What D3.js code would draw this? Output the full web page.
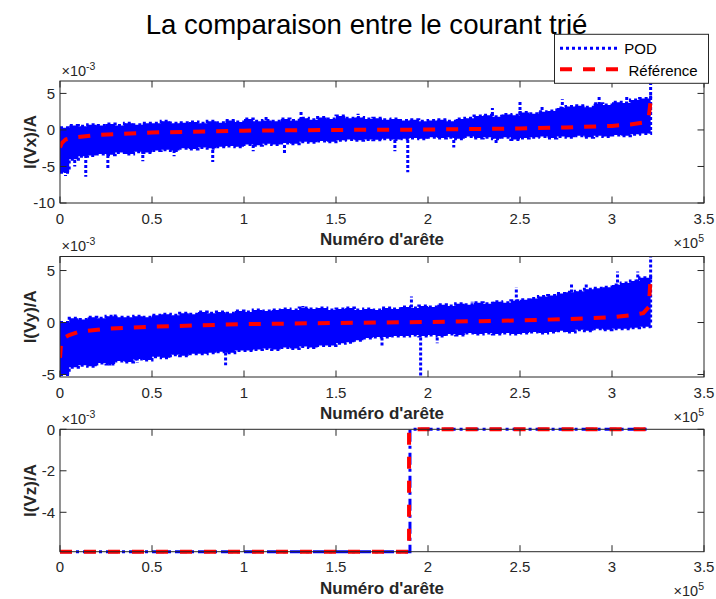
<!DOCTYPE html>
<html><head><meta charset="utf-8">
<script src="https://cdn.jsdelivr.net/npm/d3@7"></script>
<style>body{margin:0;background:#fff} svg{display:block}</style>
</head><body><svg id="c" width="716" height="599"></svg>
<script>
// ---------- DATA (x in units of 1e5 edges, y in units of 1e-3 A) ----------
const title = "La comparaison entre le courant trié";
const xLabel = "Numéro d'arête";
const yLabels = ["I(Vx)/A", "I(Vy)/A", "I(Vz)/A"];
const legendLabels = ["POD", "Référence"];
const xTicks = [0, 0.5, 1, 1.5, 2, 2.5, 3, 3.5];
const yTicks1 = [-10, -5, 0, 5];
const yTicks2 = [-5, 0, 5];
const yTicks3 = [-4, -2, 0];
const yDomain1 = [-10, 6.7];
const yDomain2 = [-5.24, 6.35];
const yDomain3 = [-5.9, 0];

// sample positions of the POD envelope (x 1e5)
const gridX = [0,0.05,0.1,0.15,0.2,0.25,0.3,0.35,0.4,0.45,0.5,0.55,0.6,0.65,0.7,0.75,0.8,0.85,0.9,0.95,
  1,1.05,1.1,1.15,1.2,1.25,1.3,1.35,1.4,1.45,1.5,1.55,1.6,1.65,1.7,1.75,1.8,1.85,1.9,1.95,
  2,2.05,2.1,2.15,2.2,2.25,2.3,2.35,2.4,2.45,2.5,2.55,2.6,2.65,2.7,2.75,2.8,2.85,2.9,2.95,
  3,3.05,3.1,3.15,3.21];

// panel 1 : POD upper / lower envelope
const podHiX = [0.3,0.6,0.5,0.7,0.6,0.8,0.6,0.9,0.7,0.9,0.9,1.2,0.9,1.0,1.1,0.9,1.2,1.0,1.3,1.1,
  1.5,1.2,1.3,1.2,1.5,1.3,1.6,1.4,1.7,1.5,1.9,1.6,1.7,1.5,1.6,1.4,1.5,1.3,1.4,1.2,
  1.3,1.4,1.2,1.5,1.6,1.9,2.0,1.8,2.1,2.0,2.4,2.2,2.5,2.6,3.0,3.2,3.3,3.1,3.6,3.4,
  3.8,3.7,4.1,4.3,4.7];
const podLoX = [-5.8,-4.0,-3.6,-3.5,-3.3,-3.4,-3.1,-3.3,-3.0,-3.1,-2.8,-2.7,-2.8,-2.5,-2.6,-2.4,-2.5,-2.3,-2.2,-2.3,
  -2.0,-2.1,-1.9,-2.0,-1.8,-1.9,-1.6,-1.7,-1.5,-1.6,-1.4,-1.3,-1.4,-1.3,-1.35,-1.2,-1.3,-1.2,-1.1,-1.2,
  -1.0,-1.1,-1.0,-1.2,-0.9,-1.1,-1.0,-1.2,-1.0,-1.3,-1.1,-1.0,-0.9,-1.1,-0.9,-1.0,-0.8,-1.0,-0.8,-0.9,
  -0.7,-0.8,-0.6,-0.5,-0.2];
const spikesX = [[0.01,-5.9],[0.03,-6.3],[0.08,-5.0],[0.14,-6.4],[0.26,-5.2],[0.45,-4.3],[0.62,-3.6],
  [0.83,-4.4],[1.05,-2.9],[1.22,-3.2],[1.31,2.5],[1.12,1.9],[1.62,2.2],[1.82,-2.9],[1.89,-5.8],
  [2.14,-2.4],[2.37,-2.0],[2.35,3.0],[2.5,4.1],[2.62,3.3],[2.73,4.2],[2.93,4.5],[3.08,4.6],[3.21,6.6]];
const refX = [[0,-2.4],[0.01,-1.8],[0.03,-1.3],[0.08,-1.0],[0.2,-0.7],[0.5,-0.35],[1,-0.1],[1.5,0.0],
  [2,0.05],[2.5,0.2],[2.75,0.35],[3,0.55],[3.1,0.75],[3.17,1.0],[3.2,1.8],[3.21,4.0]];

// panel 2
const podHiY = [0.0,0.4,0.3,0.5,0.4,0.6,0.5,0.5,0.6,0.5,0.7,0.8,0.7,0.9,0.8,1.0,0.9,1.0,0.9,1.1,
  1.0,1.2,1.1,1.2,1.3,1.2,1.4,1.3,1.4,1.2,1.3,1.4,1.2,1.3,1.2,1.4,1.3,1.5,1.4,1.6,
  1.5,1.7,1.6,1.8,1.7,1.9,1.8,2.0,1.9,2.1,2.2,2.3,2.5,2.6,2.8,2.9,3.0,3.2,3.3,3.4,
  3.6,3.8,4.0,4.3,4.6];
const podLoY = [-5.0,-4.3,-4.1,-4.2,-3.9,-4.0,-3.7,-3.8,-3.5,-3.6,-3.3,-3.4,-3.1,-3.2,-3.0,-3.0,-2.9,-2.8,-2.9,-2.7,
  -2.7,-2.6,-2.5,-2.6,-2.4,-2.5,-2.3,-2.4,-2.2,-2.2,-2.0,-1.9,-1.7,-1.5,-1.4,-1.4,-1.3,-1.3,-1.2,-1.3,
  -1.2,-1.3,-1.1,-1.2,-1.0,-1.1,-1.0,-1.1,-1.0,-1.1,-1.0,-0.9,-1.0,-0.9,-0.8,-0.9,-0.7,-0.8,-0.6,-0.7,
  -0.6,-0.6,-0.5,-0.4,-0.5];
const spikesY = [[0.005,-5.2],[0.03,-4.8],[0.27,-4.2],[0.42,-3.9],[0.3,0.9],[0.9,-4.1],[1.32,1.6],
  [1.38,-2.5],[1.75,-2.3],[1.91,2.5],[1.96,-5.2],[2.05,-2.0],[2.24,2.0],[2.48,3.4],[2.78,3.8],
  [2.86,3.8],[3.03,4.9],[3.14,4.9],[3.21,6.3]];
const refY = [[0,-3.4],[0.005,-2.2],[0.02,-1.5],[0.05,-1.2],[0.1,-0.9],[0.25,-0.6],[0.5,-0.4],[1,-0.15],
  [1.5,-0.05],[2,0.05],[2.5,0.2],[2.75,0.33],[3,0.5],[3.1,0.7],[3.17,0.9],[3.2,1.5],[3.21,4.4]];

// panel 3
const podZ = [[0,-5.9],[1.902,-5.9],[1.902,0],[3.2,0]];
const refZ = [[0,-5.9],[1.897,-5.9],[1.897,0],[3.2,0]];

// ---------- DRAWING ----------
const svg = d3.select("#c");
const FONT = "'Liberation Sans', Arial, Helvetica, sans-serif";
const AX = "#262626";
const BLUE = "#0000ff", RED = "#ff0000";
const x = d3.scaleLinear().domain([0, 3.5]).range([60, 704]);

svg.append("text").attr("x", 366.5).attr("y", 34).attr("text-anchor", "middle")
  .attr("font-family", FONT).attr("font-size", 27.6).attr("fill", "#000").text(title);

const panels = [
  {top: 81, bottom: 203, dom: yDomain1, ticks: yTicks1, label: yLabels[0], hi: podHiX, lo: podLoX, spikes: spikesX, ref: refX},
  {top: 256.5, bottom: 377, dom: yDomain2, ticks: yTicks2, label: yLabels[1], hi: podHiY, lo: podLoY, spikes: spikesY, ref: refY},
  {top: 429.3, bottom: 551.7, dom: yDomain3, ticks: yTicks3, label: yLabels[2], step: podZ, ref: refZ}
];

panels.forEach((p, i) => {
  const y = d3.scaleLinear().domain(p.dom).range([p.bottom, p.top]);
  const g = svg.append("g");
  const cid = "clip" + i;
  svg.append("clipPath").attr("id", cid).append("rect")
    .attr("x", 60).attr("y", p.top - 4).attr("width", 644).attr("height", p.bottom - p.top + 8);
  const plot = g.append("g").attr("clip-path", `url(#${cid})`);
  const line = d3.line().x(d => x(d[0])).y(d => y(d[1]));

  if (p.hi) {
    const pts = gridX.map((u, k) => ({u, hi: p.hi[k], lo: p.lo[k]}));
    const area = d3.area().curve(d3.curveStepAfter)
      .x(d => x(d.u)).y0(d => y(d.lo)).y1(d => y(d.hi));
    plot.append("path").datum(pts).attr("d", area).attr("fill", BLUE);
    ["hi", "lo"].forEach(k => {
      plot.append("path").datum(pts)
        .attr("d", d3.line().curve(d3.curveStepAfter).x(d => x(d.u)).y(d => y(d[k])))
        .attr("fill", "none").attr("stroke", BLUE).attr("stroke-width", 3)
        .attr("stroke-dasharray", "3,3");
    });
    plot.selectAll(null).data(p.spikes).enter().append("line")
      .attr("x1", d => x(d[0])).attr("x2", d => x(d[0]))
      .attr("y1", y(0)).attr("y2", d => y(d[1]))
      .attr("stroke", BLUE).attr("stroke-width", 3).attr("stroke-dasharray", "3,2");
    plot.append("path").datum(p.ref).attr("d", line)
      .attr("fill", "none").attr("stroke", RED).attr("stroke-width", 4)
      .attr("stroke-dasharray", "12,11");
  } else {
    plot.append("path").datum(p.step).attr("d", line)
      .attr("fill", "none").attr("stroke", BLUE).attr("stroke-width", 3)
      .attr("stroke-dasharray", "12,4,3,4");
    plot.append("path").datum(p.ref).attr("d", line)
      .attr("fill", "none").attr("stroke", RED).attr("stroke-width", 4)
      .attr("stroke-dasharray", "12,12");
  }

  g.append("rect").attr("x", 60).attr("y", p.top).attr("width", 644).attr("height", p.bottom - p.top)
    .attr("fill", "none").attr("stroke", AX).attr("stroke-width", 1);
  const TL = 6.5;
  xTicks.forEach(t => {
    const xx = x(t);
    g.append("line").attr("x1", xx).attr("x2", xx).attr("y1", p.bottom).attr("y2", p.bottom - TL).attr("stroke", AX);
    g.append("line").attr("x1", xx).attr("x2", xx).attr("y1", p.top).attr("y2", p.top + TL).attr("stroke", AX);
    g.append("text").attr("x", xx).attr("y", p.bottom + 20.5).attr("text-anchor", "middle")
      .attr("font-family", FONT).attr("font-size", 15).attr("fill", AX).text(d3.format("")(t));
  });
  p.ticks.forEach(t => {
    const yy = y(t);
    g.append("line").attr("x1", 60).attr("x2", 60 + TL).attr("y1", yy).attr("y2", yy).attr("stroke", AX);
    g.append("line").attr("x1", 704).attr("x2", 704 - TL).attr("y1", yy).attr("y2", yy).attr("stroke", AX);
    g.append("text").attr("x", 55).attr("y", yy).attr("dy", "0.36em").attr("text-anchor", "end")
      .attr("font-family", FONT).attr("font-size", 15).attr("fill", AX).text(t);
  });
  const ye = g.append("text").attr("x", 61.5).attr("y", p.top - 5.5)
    .attr("font-family", FONT).attr("font-size", 14.5).attr("fill", AX);
  ye.append("tspan").text("×10");
  ye.append("tspan").attr("dy", -6).attr("font-size", 10.5).text("-3");
  const xe = g.append("text").attr("x", 704).attr("y", p.bottom + 44.5).attr("text-anchor", "end")
    .attr("font-family", FONT).attr("font-size", 14.5).attr("fill", AX);
  xe.append("tspan").text("×10");
  xe.append("tspan").attr("dy", -6).attr("font-size", 10.5).text("5");
  g.append("text").attr("x", 382).attr("y", p.bottom + 42).attr("text-anchor", "middle")
    .attr("font-family", FONT).attr("font-size", 17).attr("font-weight", "bold").attr("fill", AX).text(xLabel);
  g.append("text").attr("transform", `translate(35.5,${(p.top + p.bottom) / 2}) rotate(-90)`)
    .attr("text-anchor", "middle").attr("font-family", FONT).attr("font-size", 17)
    .attr("font-weight", "bold").attr("fill", AX).text(p.label);
});

const lg = svg.append("g");
lg.append("rect").attr("x", 554.5).attr("y", 34.3).attr("width", 154).attr("height", 49)
  .attr("fill", "#fff").attr("stroke", AX).attr("stroke-width", 1);
lg.append("line").attr("x1", 560).attr("x2", 617).attr("y1", 48.3).attr("y2", 48.3)
  .attr("stroke", BLUE).attr("stroke-width", 3).attr("stroke-dasharray", "3,3");
lg.append("line").attr("x1", 560).attr("x2", 619).attr("y1", 69.3).attr("y2", 69.3)
  .attr("stroke", RED).attr("stroke-width", 4).attr("stroke-dasharray", "12,11");
lg.append("text").attr("x", 624.3).attr("y", 53.5).attr("font-family", FONT).attr("font-size", 15)
  .attr("fill", "#000").text(legendLabels[0]);
lg.append("text").attr("x", 628.5).attr("y", 75.5).attr("font-family", FONT).attr("font-size", 15)
  .attr("fill", "#000").text(legendLabels[1]);
</script></body></html>
